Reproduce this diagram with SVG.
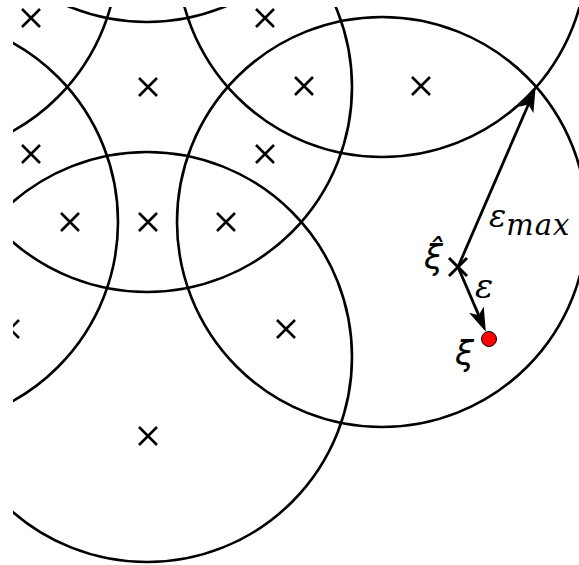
<svg xmlns="http://www.w3.org/2000/svg" width="579" height="565" viewBox="0 0 579 565">
<style>
.c{fill:none;stroke:#000;stroke-width:2.6}
.m{fill:none;stroke:#000;stroke-width:2.6}
.a{fill:none;stroke:#000;stroke-width:2.8}
.t{font-family:"DejaVu Serif","Liberation Serif",serif;font-style:italic;fill:#000}
.g{font-family:"DejaVu Sans","Open Sans",sans-serif;font-style:italic;fill:#000}
</style>
<defs>
<clipPath id="clip"><rect x="13" y="7" width="566" height="558"/></clipPath>
<marker id="ah" viewBox="0 0 24 16" markerWidth="24" markerHeight="16" refX="13" refY="8" orient="auto" markerUnits="userSpaceOnUse">
<path d="M24,8 L0,0 L6,8 L0,16 Z" fill="#000"/>
</marker>
<path id="x" d="M-9,-9 L9,9 M-9,9 L9,-9"/>
</defs>
<g id="circles" clip-path="url(#clip)">
<circle id="c1" class="c" cx="147" cy="-183" r="205"/>
<circle id="c2" class="c" cx="147" cy="87" r="205"/>
<circle id="c3" class="c" cx="147" cy="357" r="205"/>
<circle id="c4" class="c" cx="382" cy="-48" r="205"/>
<circle id="c5" class="c" cx="382" cy="222" r="205"/>
<circle id="c6" class="c" cx="-87" cy="-48" r="205"/>
<circle id="c7" class="c" cx="-87" cy="222" r="205"/>
</g>
<g id="points" class="m" clip-path="url(#clip)">
<use href="#x" x="31" y="18"/>
<use href="#x" x="265" y="18"/>
<use href="#x" x="148" y="87"/>
<use href="#x" x="304" y="86"/>
<use href="#x" x="421" y="86"/>
<use href="#x" x="31" y="154"/>
<use href="#x" x="265" y="154"/>
<use href="#x" x="70" y="222"/>
<use href="#x" x="148" y="222"/>
<use href="#x" x="226" y="222"/>
<use href="#x" x="10" y="329"/>
<use href="#x" x="286" y="329"/>
<use href="#x" x="148" y="436"/>
</g>
<g id="connectors">
<line class="a" x1="458" y1="267" x2="531.2" y2="98" marker-end="url(#ah)"/>
<line class="a" x1="458" y1="267" x2="481.5" y2="321.6" marker-end="url(#ah)"/>
</g>
<g id="xihat">
<use href="#x" x="458" y="267" style="fill:none;stroke:#000;stroke-width:3"/>
<text class="g" x="424" y="269" font-size="34">ξ̂</text>
</g>
<g id="xi">
<circle cx="489" cy="339" r="7.5" fill="#f00" stroke="#000" stroke-width="1"/>
<text class="g" x="455" y="365" font-size="34">ξ</text>
</g>
<text id="eps" class="t" x="475" y="298" font-size="34">ε</text>
<text id="epsmax" class="t" x="489" y="227" font-size="32">ε<tspan dy="8" font-size="29" letter-spacing="1">max</tspan></text>
</svg>
